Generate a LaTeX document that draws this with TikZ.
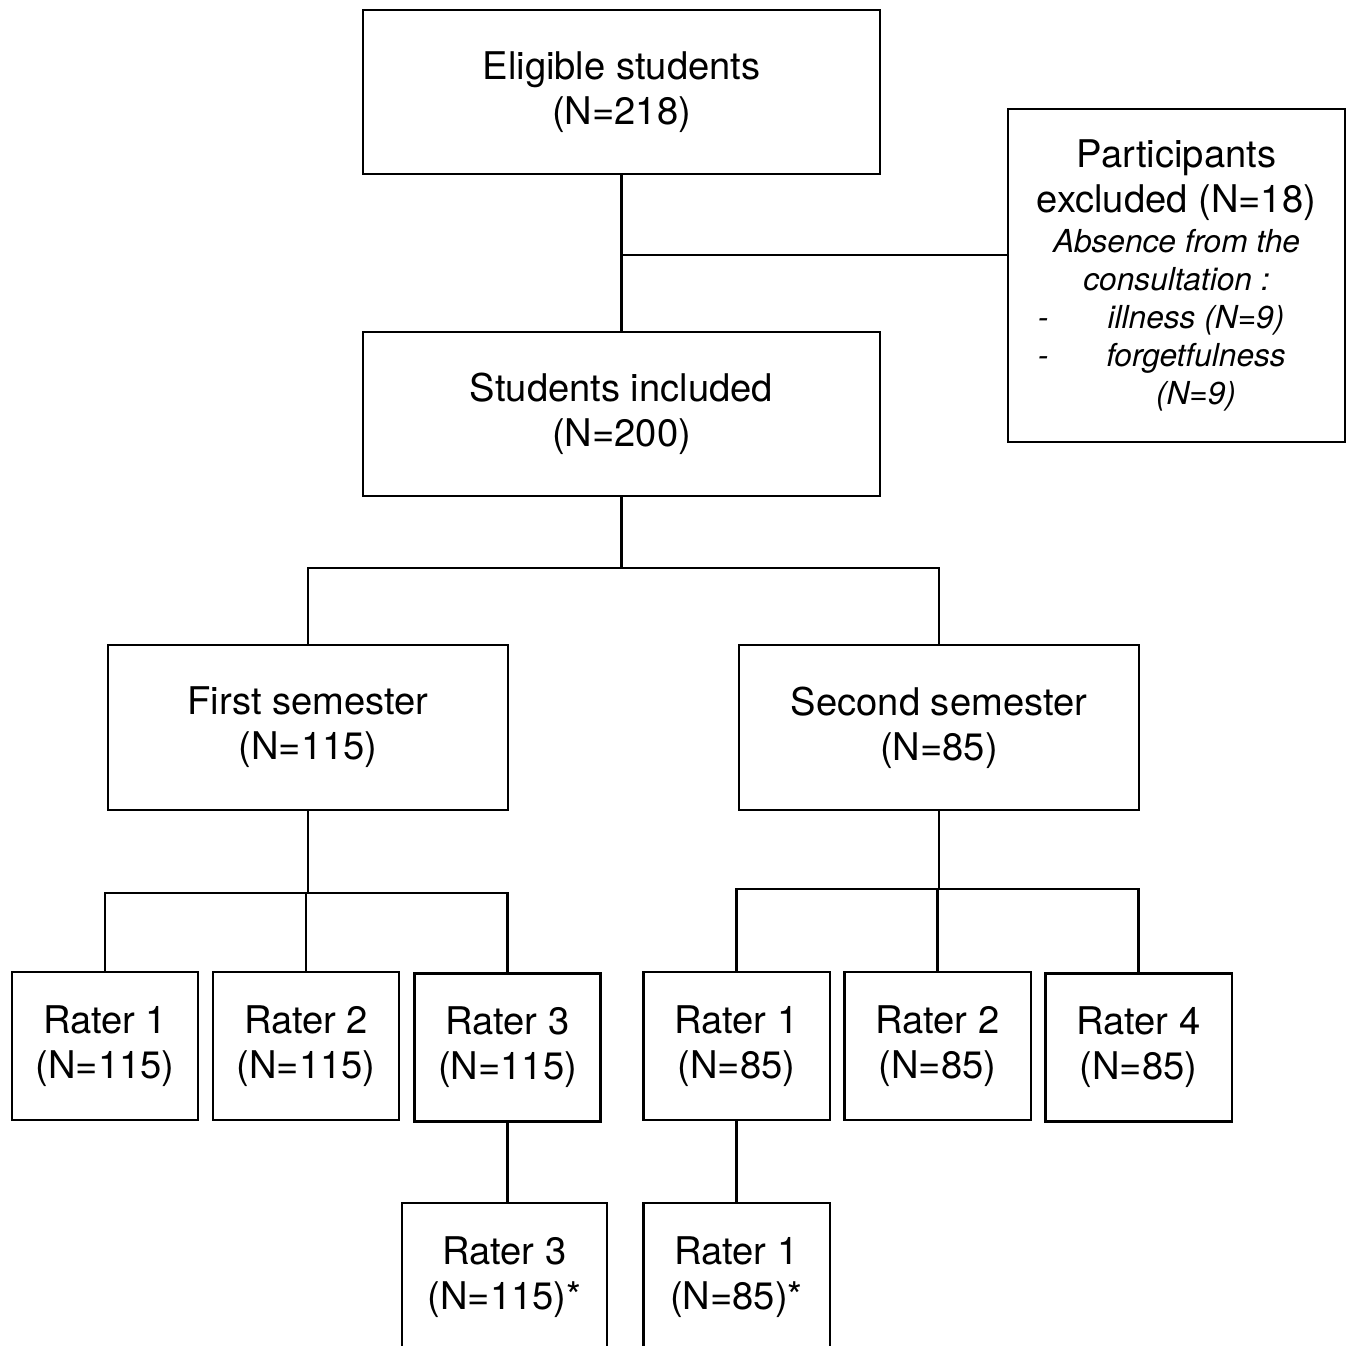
\documentclass[tikz,border=0pt]{standalone}
\usepackage{fontspec}
\setmainfont{TeX Gyre Heros}
\usepackage{tikz}
\newcommand{\smallit}{\fontsize{9}{10.8}\selectfont\itshape}

\begin{document}
\begin{tikzpicture}[x=0.01cm, y=-0.01cm,
		box/.style={draw, line width=0.6pt, align=center, inner sep=0pt,
			font=\fontsize{10.85}{12.8}\selectfont},
		big/.style={box, minimum width=5.17cm, minimum height=1.64cm},
		sem/.style={box, minimum width=4cm, minimum height=1.65cm},
		rater/.style={box, minimum width=1.86cm, minimum height=1.48cm},
		link/.style={line width=0.8pt}]
		\useasboundingbox (0, 0) rectangle (1347, 1346);

		% top of the chart
		\node[big] (elig) at (621.5, 92) {Eligible students\\(N=218)};
		\node[big] (incl) at (621.5, 414) {Students included\\(N=200)};
		\node[box, minimum width=3.37cm, minimum height=3.33cm] (excl) at (1176.5, 275.5)
			{Participants\\excluded (N=18)\\[-1.2pt]
			\smallit Absence from the\\[-2pt]
			\smallit consultation :\\[-2pt]
			\smallit\makebox[0.39cm][l]{-}\makebox[2.38cm]{illness (N=9)}\\[-2pt]
			\smallit\makebox[0.39cm][l]{-}\makebox[2.38cm]{forgetfulness}\\[-2pt]
			\smallit\makebox[0.39cm][l]{}\makebox[2.38cm]{(N=9)}};

		% semesters
		\node[sem] (sem1) at (308, 727.5) {First semester\\(N=115)};
		\node[sem] (sem2) at (939, 727.5) {Second semester\\(N=85)};

		% raters
		\node[rater] (r11) at (105, 1046) {Rater 1\\(N=115)};
		\node[rater] (r12) at (306, 1046) {Rater 2\\(N=115)};
		\node[rater] (r13) at (507.5, 1047.5) {Rater 3\\(N=115)};
		\node[rater] (r21) at (736.5, 1046) {Rater 1\\(N=85)};
		\node[rater] (r22) at (937.5, 1046) {Rater 2\\(N=85)};
		\node[rater] (r24) at (1138.5, 1047.5) {Rater 4\\(N=85)};
		\node[rater, minimum width=2.05cm] (r13b) at (504.5, 1277) {Rater 3\\(N=115)*};
		\node[rater] (r21b) at (736.5, 1277) {Rater 1\\(N=85)*};

		% connectors
		\coordinate (j1) at (621.5, 255);
		\draw[link] (elig.south) -- (incl.north);
		\draw[link] (j1) -- (excl.west |- j1);

		\coordinate (j2) at (621.5, 568);
		\draw[link] (incl.south) -- (j2);
		\draw[link] (sem1.north) |- (j2) -| (sem2.north);

		\coordinate (j3) at (308, 893);
		\draw[link] (sem1.south) -- (j3);
		\draw[link] (r11.north) |- (j3) -| (r13.north);
		\draw[link] (r12.north) -- (r12.north |- j3);

		\coordinate (j4) at (939, 889);
		\draw[link] (sem2.south) -- (j4);
		\draw[link] (r21.north) |- (j4) -| (r24.north);
		\draw[link] (r22.north) -- (r22.north |- j4);

		\draw[link] (r13.south) -- (r13.south |- r13b.north);
		\draw[link] (r21.south) -- (r21b.north);
	\end{tikzpicture}
\end{document}
